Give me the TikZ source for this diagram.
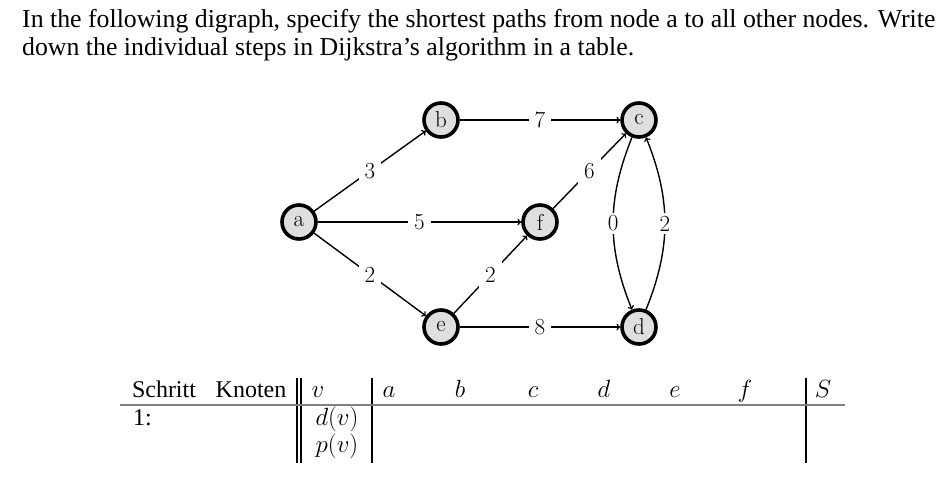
\documentclass[tikz,border=0pt]{standalone}
\usepackage{fontspec}
\setmainfont{Liberation Serif}
\newfontfamily\lmfont{Latin Modern Roman}
\begin{document}
\begin{tikzpicture}[x=1pt,y=-1pt,
  vert/.style={circle,draw,line width=3.6pt,fill=gray!25,minimum size=34pt,inner sep=0pt,font=\fontsize{23}{23}\lmfont},
  edge/.style={->,>=to,line width=1.4pt},
  wt/.style={fill=white,inner sep=6pt,font=\fontsize{23}{23}\lmfont},
  txt/.style={anchor=base west,inner sep=0pt,font=\fontsize{25.8}{26}\selectfont},
  tb/.style={anchor=base,inner sep=0pt,font=\fontsize{24}{24}\selectfont},
  rule/.style={line width=1.2pt}]
\useasboundingbox (0,0) rectangle (950,499);
\node[txt] (t1) at (22,27) {In the following digraph, specify the shortest paths from node a to all other nodes. Write};
\node[txt] (t2) at (22,55) {down the individual steps in Dijkstra’s algorithm in a table.};
\node[vert] (a) at (299,222) {a};
\node[vert] (b) at (441,120) {b};
\node[vert] (c) at (639,120) {c};
\node[vert] (f) at (540,222) {f};
\node[vert] (e) at (441,327) {e};
\node[vert] (d) at (639,327) {d};
\draw[edge] (a) -- node[wt]{3} (b);
\draw[edge] (a) -- node[wt]{5} (f);
\draw[edge] (a) -- node[wt]{2} (e);
\draw[edge] (b) -- node[wt]{7} (c);
\draw[edge] (f) -- node[wt]{6} (c);
\draw[edge] (e) -- node[wt]{2} (f);
\draw[edge] (e) -- node[wt]{8} (d);
\draw[edge] (c) to[bend right=22] node[wt,inner sep=3pt]{0} (d);
\draw[edge] (d) to[bend right=22] node[wt,inner sep=3pt]{2} (c);
% table
\node[tb] (h1) at (164,397) {Schritt};
\node[tb] (h2) at (251,397) {Knoten};
\node[tb] (hv) at (318,397) {$v$};
\node[tb] (ha) at (389,397) {$a$};
\node[tb] (hb) at (460,397) {$b$};
\node[tb] (hc) at (533,397) {$c$};
\node[tb] (hd) at (604,397) {$d$};
\node[tb] (he) at (675,397) {$e$};
\node[tb] (hf) at (745,397) {$f$};
\node[tb] (hS) at (823,397) {$S$};
\node[tb,anchor=base west] (r1) at (133,425) {1:};
\node[tb] (dv) at (337,425) {$d(v)$};
\node[tb] (pv) at (337,452) {$p(v)$};
\draw[rule] (297,378) -- (297,463);
\draw[rule] (301,378) -- (301,463);
\draw[rule] (372,378) -- (372,463);
\draw[rule] (806,378) -- (806,463);
\draw[line width=1.6pt,gray] (120,405) -- (845,405);
\end{tikzpicture}
\end{document}
